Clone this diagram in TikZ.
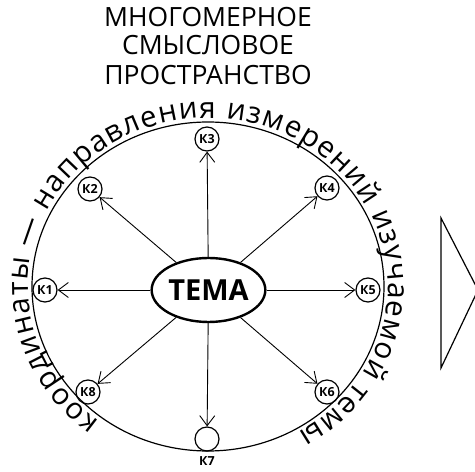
\documentclass[tikz,border=0pt]{standalone}
\usepackage{fontspec}
\setmainfont{Open Sans}
\usetikzlibrary{shapes.geometric,arrows.meta,decorations.text}
\tikzset{
  kcirc/.style={draw,circle,line width=1.2pt,minimum size=24pt,inner sep=0pt,font=\bfseries\fontsize{12.5}{14}\selectfont},
  ray/.style={line width=0.9pt,-{Straight Barb[length=10pt,width=15pt,line width=0.9pt]}},
  titletxt/.style={anchor=base,inner sep=0pt,font=\fontsize{26.5}{30}\selectfont}
}
\begin{document}
\begin{tikzpicture}[x=1pt,y=1pt]
\useasboundingbox (0,0) rectangle (475,472);
% title
\node[titletxt] (t1) at (208,445) {МНОГОМЕРНОЕ};
\node[titletxt] (t2) at (208,417) {СМЫСЛОВОЕ};
\node[titletxt] (t3) at (208,387) {ПРОСТРАНСТВО};
% big circle
\coordinate (c) at (208,185.5);
\draw[line width=1.2pt] (c) ellipse[x radius=176,y radius=164.5];
% curved text
\path[decorate,decoration={text along path,text align=fit to path,
  text={|\fontsize{29.5}{33}\selectfont|координаты — направления измерений изучаемой темы}}]
  ([shift={(233:180 and 168.5)}]c) arc[start angle=233,end angle=-60,x radius=180,y radius=168.5];
% centre
\node[draw,ellipse,line width=2.4pt,minimum width=106pt,minimum height=64pt,inner sep=0pt,
  font=\bfseries\fontsize{29}{32}\selectfont] (tema) at (208.5,182) {ТЕМА};
% coordinates
\node[kcirc] (k1) at (45,182) {К1};
\node[kcirc] (k2) at (90,283) {К2};
\node[kcirc] (k3) at (207,333) {К3};
\node[kcirc] (k4) at (327,284) {К4};
\node[kcirc] (k5) at (368,182) {К5};
\node[kcirc] (k6) at (327,80) {К6};
\node[kcirc] (k7) at (207,33) {};
\node[kcirc] (k8) at (88,80) {К8};
\node[font=\bfseries\fontsize{12.5}{14}\selectfont,inner sep=0pt] (k7l) at (207,11) {К7};
\foreach \k in {k1,k2,k3,k4,k5,k6,k7,k8}{
  \draw[ray] (tema) -- (\k);
}
% triangle on the right
\coordinate (ta) at (441,254);
\coordinate (tb) at (441,104);
\coordinate (tc) at (478,182);
\draw[line width=1.2pt,line join=miter] (ta) -- (tc) -- (tb) -- cycle;
\end{tikzpicture}
\end{document}
